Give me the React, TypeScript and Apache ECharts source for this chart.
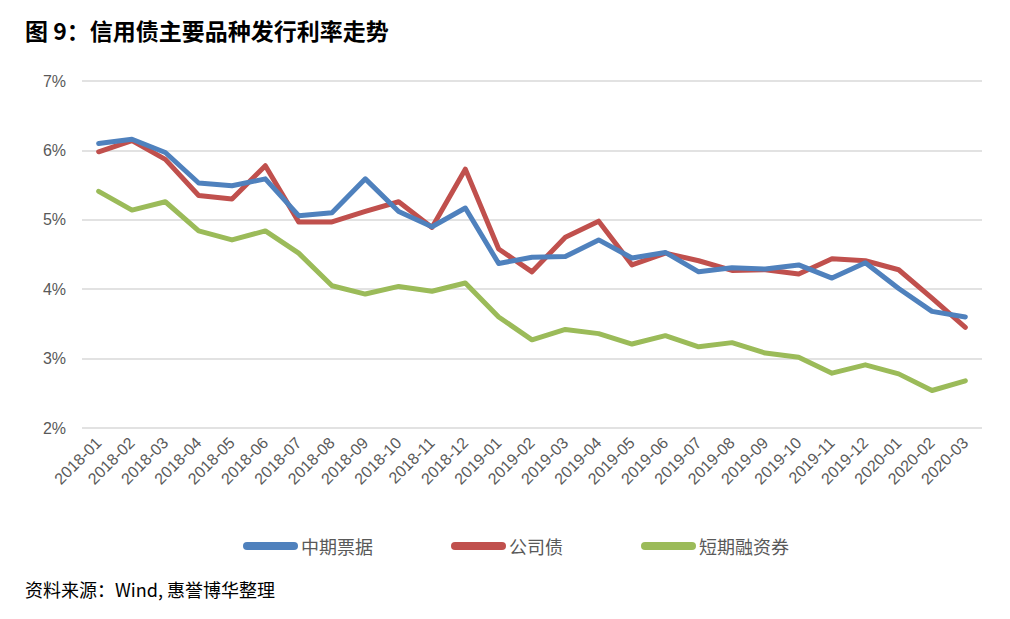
import React, { useEffect, useRef } from "react";
import * as echarts from "echarts";

const categories = [
  "2018-01", "2018-02", "2018-03", "2018-04", "2018-05", "2018-06", "2018-07", "2018-08", "2018-09",
  "2018-10", "2018-11", "2018-12", "2019-01", "2019-02", "2019-03", "2019-04", "2019-05", "2019-06",
  "2019-07", "2019-08", "2019-09", "2019-10", "2019-11", "2019-12", "2020-01", "2020-02", "2020-03",
];

const mtnRates = [
  6.10, 6.16, 5.97, 5.53, 5.49, 5.59, 5.06, 5.10, 5.59, 5.12, 4.90, 5.17, 4.37, 4.46,
  4.47, 4.71, 4.45, 4.53, 4.25, 4.31, 4.29, 4.35, 4.16, 4.38, 4.01, 3.68, 3.60,
];

const corpRates = [
  5.98, 6.14, 5.87, 5.35, 5.30, 5.78, 4.97, 4.97, 5.12, 5.26, 4.89, 5.73, 4.58, 4.25,
  4.75, 4.98, 4.35, 4.52, 4.41, 4.27, 4.28, 4.22, 4.44, 4.41, 4.28, 3.87, 3.45,
];

const cpRates = [
  5.41, 5.14, 5.26, 4.84, 4.71, 4.84, 4.52, 4.05, 3.93, 4.04, 3.97, 4.09, 3.60, 3.27,
  3.42, 3.36, 3.21, 3.33, 3.17, 3.23, 3.08, 3.02, 2.79, 2.91, 2.78, 2.54, 2.68,
];

const seriesNames = ["中期票据", "公司债", "短期融资券"];
const yTicks = { min: 2, max: 7, interval: 1 };

const colors = ["#4F81BD", "#C0504D", "#9BBB59"];
const capsule = "path://M4,0 H51 A4,4 0 0 1 51,8 H4 A4,4 0 0 1 4,0 Z";

export default function App() {
  const ref = useRef<HTMLDivElement>(null);
  useEffect(() => {
    if (!ref.current) return;
    const chart = echarts.init(ref.current, undefined, { renderer: "svg" });
    const allData = [mtnRates, corpRates, cpRates];
    chart.setOption({
      animation: false,
      backgroundColor: "#ffffff",
      title: {
        text: "图 9：信用债主要品种发行利率走势",
        left: 20,
        top: 13,
        textStyle: {
          fontFamily: "Noto Sans CJK SC",
          fontWeight: "bold",
          fontSize: 23,
          color: "#000000",
        },
      },
      grid: { left: 82, right: 28, top: 81, bottom: 191, containLabel: false },
      legend: {
        left: 238,
        top: 532,
        itemWidth: 55,
        itemHeight: 8,
        itemGap: 78,
        icon: capsule,
        textStyle: {
          fontFamily: "Noto Sans CJK SC",
          fontSize: 18,
          color: "#595959",
          padding: [0, 0, 0, -2],
        },
        data: seriesNames,
      },
      xAxis: {
        type: "category",
        data: categories,
        boundaryGap: true,
        axisLine: { show: false },
        axisTick: { show: false },
        axisLabel: {
          rotate: 45,
          interval: 0,
          margin: 12,
          fontFamily: "Liberation Sans",
          fontSize: 16,
          color: "#595959",
        },
      },
      yAxis: {
        type: "value",
        min: yTicks.min,
        max: yTicks.max,
        interval: yTicks.interval,
        axisLine: { show: false },
        axisTick: { show: false },
        axisLabel: {
          formatter: "{value}%",
          margin: 16,
          fontFamily: "Liberation Sans",
          fontSize: 16,
          color: "#595959",
        },
        splitLine: { lineStyle: { color: "#D9D9D9", width: 1.5 } },
      },
      graphic: [
        {
          type: "text",
          left: 25,
          top: 580,
          style: {
            text: "资料来源：Wind, 惠誉博华整理",
            fontFamily: "Noto Sans CJK SC",
            fontSize: 18,
            fill: "#000000",
          },
        },
      ],
      series: seriesNames.map((name, i) => ({
        name,
        type: "line",
        data: allData[i],
        symbol: "none",
        z: 3 - i,
        color: colors[i],
        lineStyle: { width: 5, color: colors[i], cap: "round", join: "round" },
      })),
    });
    return () => chart.dispose();
  }, []);
  return (
    <div
      ref={ref}
      style={{ position: "fixed", left: 0, top: 0, width: 1010, height: 619 }}
    />
  );
}
